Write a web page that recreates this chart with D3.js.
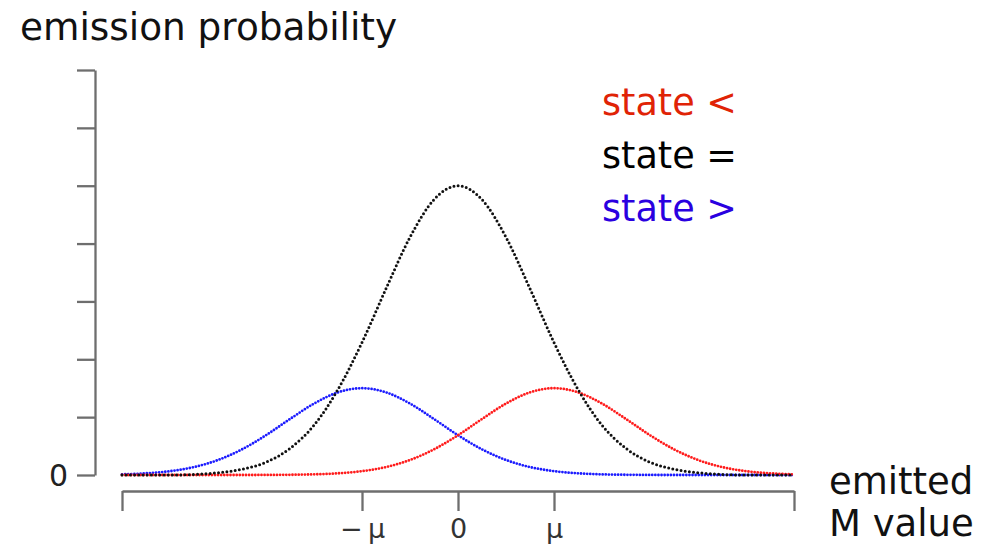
<!DOCTYPE html>
<html>
<head>
<meta charset="utf-8">
<script src="https://cdn.jsdelivr.net/npm/d3@7"></script>
<style>
  html, body { margin: 0; padding: 0; background: #fff; }
  svg { display: block; font-family: "DejaVu Sans", sans-serif; }
</style>
</head>
<body>
<svg id="chart" width="991" height="545"></svg>
<script>
// Emitted M value, in units of mu
const xValues = [-3.5, -3.25, -3, -2.75, -2.5, -2.25, -2, -1.75, -1.5, -1.25, -1, -0.75, -0.5, -0.25,
                 0, 0.25, 0.5, 0.75, 1, 1.25, 1.5, 1.75, 2, 2.25, 2.5, 2.75, 3, 3.25, 3.5];

// Emission probability for each state (arbitrary units)
const stateEqual = [0.00, 0.00, 0.00, 0.01, 0.04, 0.10, 0.22, 0.46, 0.86, 1.48, 2.29, 3.22, 4.11, 4.76,
                    5.00, 4.76, 4.11, 3.22, 2.29, 1.48, 0.86, 0.46, 0.22, 0.10, 0.04, 0.01, 0.00, 0.00, 0.00];
const stateGreater = [0.011, 0.029, 0.066, 0.137, 0.259, 0.443, 0.687, 0.967, 1.234, 1.428, 1.500, 1.428, 1.234, 0.967,
                      0.687, 0.443, 0.259, 0.137, 0.066, 0.029, 0.011, 0.004, 0.001, 0.000, 0.000, 0.000, 0.000, 0.000, 0.000];
const stateLess = [0.000, 0.000, 0.000, 0.000, 0.000, 0.000, 0.001, 0.004, 0.011, 0.029, 0.066, 0.137, 0.259, 0.443,
                   0.687, 0.967, 1.234, 1.428, 1.500, 1.428, 1.234, 0.967, 0.687, 0.443, 0.259, 0.137, 0.066, 0.029, 0.011];

const yTicks = [0, 1, 2, 3, 4, 5, 6, 7];
const yTickLabels = ["0", "", "", "", "", "", "", ""];
const xTicks = [-3.5, -1, 0, 1, 3.5];
const xTickLabels = ["", "\u2212\u2009\u03bc", "0", "\u03bc", ""];

const legendLabels = ["state <", "state =", "state >"];
const legendColors = ["#e02306", "#000000", "#2a00e0"];

const svg = d3.select("#chart");

const x = d3.scaleLinear().domain([-3.5, 3.5]).range([122, 794]);
const y = d3.scaleLinear().domain([0, 7]).range([475, 70]);

const axisColor = "#6e6e6e";

// y axis (left, detached from the plot)
const yAxis = svg.append("g")
  .attr("transform", "translate(95,0)")
  .call(d3.axisLeft(y).tickValues(yTicks)
    .tickFormat((d, i) => yTickLabels[i])
    .tickSize(18).tickSizeOuter(0).tickPadding(9));

// x axis (below the curves)
const xAxis = svg.append("g")
  .attr("transform", "translate(0,491)")
  .call(d3.axisBottom(x).tickValues(xTicks)
    .tickFormat((d, i) => xTickLabels[i])
    .tickSize(20).tickSizeOuter(0));

[yAxis, xAxis].forEach(g => {
  g.selectAll("path.domain, line").attr("stroke", axisColor).attr("stroke-width", 2.3);
  g.selectAll("text").attr("fill", "#222").attr("font-family", "DejaVu Sans, sans-serif");
});
yAxis.selectAll("text").attr("font-size", 30).attr("dy", "0.36em");
// baseline kept just inside the bottom edge
xAxis.selectAll("text")
  .attr("font-size", 27)
  .attr("y", 47)
  .attr("dy", 0)
  .attr("fill", "#333");

// dotted emission curves
const line = d3.line()
  .x((d, i) => x(xValues[i]))
  .y(d => y(d))
  .curve(d3.curveMonotoneX);

function dotted(values, color, width, gap) {
  svg.append("path")
    .datum(values)
    .attr("d", line)
    .attr("fill", "none")
    .attr("stroke", color)
    .attr("stroke-width", width)
    .attr("stroke-linecap", "round")
    .attr("stroke-dasharray", `0 ${gap}`);
}

dotted(stateGreater, "#1c1cff", 2.8, 3.1);
dotted(stateLess, "#ff1c1c", 2.8, 3.1);
dotted(stateEqual, "#111", 3.0, 4.2);

// axis titles
svg.append("text")
  .attr("x", 20).attr("y", 40)
  .attr("font-size", 37.4)
  .attr("fill", "#111")
  .text("emission probability");

svg.append("text")
  .attr("x", 829).attr("y", 494)
  .attr("font-size", 37)
  .attr("fill", "#111")
  .text("emitted");
svg.append("text")
  .attr("x", 829).attr("y", 536)
  .attr("font-size", 37)
  .attr("fill", "#111")
  .text("M value");

// legend
svg.append("g")
  .selectAll("text")
  .data(legendLabels)
  .join("text")
  .attr("x", 602)
  .attr("y", (d, i) => 115 + i * 53)
  .attr("font-size", 36.6)
  .attr("fill", (d, i) => legendColors[i])
  .text(d => d);
</script>
</body>
</html>
